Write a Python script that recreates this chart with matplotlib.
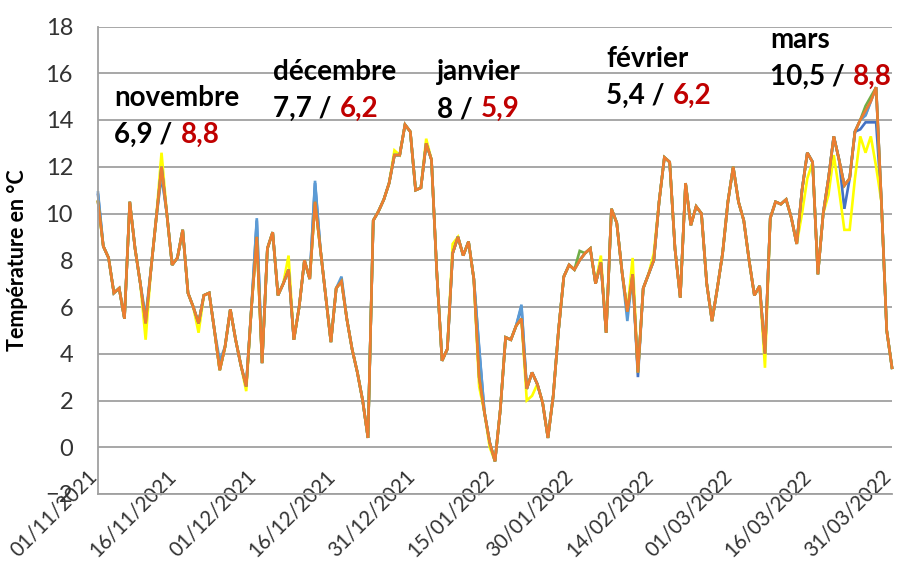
import matplotlib
matplotlib.use('Agg')
import matplotlib.pyplot as plt
import pandas as pd

plt.rcParams['font.family'] = ['Lato', 'DejaVu Sans']

# jours du 01/11/2021 au 31/03/2022
jours = pd.date_range('2021-11-01', '2022-03-31', freq='D')

# temperature moyenne journaliere (serie principale, orange)
temp_ref = [
    10.5, 8.6, 8.1, 6.6, 6.8, 5.5, 10.5, 8.5, 7.0, 5.3,
    7.6, 9.8, 12.0, 10.0, 7.8, 8.1, 9.3, 6.6, 6.0, 5.3,
    6.5, 6.6, 5.0, 3.3, 4.3, 5.9, 4.6, 3.5, 2.6, 6.0,
    9.0, 3.6, 8.5, 9.2, 6.5, 7.0, 7.6, 4.6, 6.0, 8.0,
    7.2, 10.5, 8.5, 6.5, 4.5, 6.8, 7.1, 5.5, 4.2, 3.2,
    2.0, 0.4, 9.7, 10.1, 10.6, 11.3, 12.5, 12.5, 13.8, 13.5,
    11.0, 11.1, 13.0, 12.3, 7.5, 3.7, 4.2, 8.3, 9.0, 8.2,
    8.8, 7.2, 3.0, 1.5, 0.2, -0.6, 1.6, 4.7, 4.6, 5.2,
    5.5, 2.5, 3.2, 2.7, 1.9, 0.4, 2.2, 5.0, 7.3, 7.8,
    7.6, 8.0, 8.3, 8.5, 7.0, 7.9, 4.9, 10.2, 9.6, 7.5,
    5.8, 7.4, 3.2, 6.8, 7.4, 8.0, 10.5, 12.4, 12.2, 8.5,
    6.4, 11.3, 9.5, 10.3, 10.0, 7.0, 5.4, 6.8, 8.3, 10.5,
    12.0, 10.5, 9.7, 8.0, 6.5, 6.9, 4.0, 9.8, 10.5, 10.4,
    10.6, 9.8, 8.7, 11.0, 12.6, 12.2, 7.4, 10.0, 11.5, 13.3,
    12.3, 11.2, 11.5, 13.5, 14.0, 14.4, 14.8, 15.4, 10.5, 5.0,
    3.4,
]

# autres stations : valeurs qui s'ecartent de la serie principale (jour -> temp)
ecarts_bleu = {0: 10.8, 12: 11.6, 30: 9.7, 41: 11.3, 72: 4.2, 80: 6.0, 102: 3.0,
               141: 10.2, 144: 13.6, 145: 13.9, 146: 13.9, 147: 13.9}
ecarts_gris = {12: 11.8, 46: 7.2, 145: 14.2}
ecarts_jaune = {9: 4.6, 12: 12.6, 19: 4.9, 28: 2.4, 36: 8.2, 56: 12.7, 62: 13.2,
                67: 8.7, 72: 2.6, 74: 0.0, 81: 2.0, 82: 2.2, 95: 8.2, 101: 8.1,
                105: 8.3, 126: 3.4, 133: 10.0, 134: 11.5, 138: 10.8, 139: 12.5,
                140: 11.0, 141: 9.3, 142: 9.3, 143: 11.5, 144: 13.3, 145: 12.6,
                146: 13.3, 147: 12.0}
ecarts_bleu_clair = {0: 10.9, 9: 5.6, 23: 3.7, 30: 9.8, 41: 11.4, 46: 7.3, 72: 4.3,
                     80: 6.1, 100: 5.4, 145: 14.2}
ecarts_vert = {91: 8.4, 145: 14.6, 146: 15.0}

stations = [
    ('#4472C4', ecarts_bleu),
    ('#A5A5A5', ecarts_gris),
    ('#FFFF00', ecarts_jaune),
    ('#5B9BD5', ecarts_bleu_clair),
    ('#70AD47', ecarts_vert),
    ('#ED7D31', {}),
]

# etiquettes des mois : nom, moyenne (noir), normale (rouge)
mois = ['novembre', 'décembre', 'janvier', 'février', 'mars']
moy_mois = ['6,9', '7,7', '8', '5,4', '10,5']
norm_mois = ['8,8', '6,2', '5,9', '6,2', '8,8']
pos_mois = [('2021-11-04', 14.6), ('2021-12-04', 15.7), ('2022-01-04', 15.7),
            ('2022-02-05', 16.25), ('2022-03-08', 17.1)]

fig = plt.figure(figsize=(8.97, 5.62), dpi=100)
ax = fig.add_axes([98 / 897, 68 / 562, 794 / 897, 467.5 / 562])

for couleur, ecarts in stations:
    serie = list(temp_ref)
    for j, v in ecarts.items():
        serie[j] = v
    ax.plot(jours, serie, color=couleur, lw=1.9, solid_joinstyle='miter',
            clip_on=False)

ax.set_ylim(-2, 18)
ax.set_yticks(range(-2, 19, 2))
ax.set_xlim(jours[0], jours[-1])
dates_ticks = jours[::15]
ax.set_xticks(dates_ticks)
ax.set_xticklabels(dates_ticks.strftime('%d/%m/%Y'), rotation=45, ha='right',
                   va='baseline', rotation_mode='anchor')
ax.grid(axis='y', color='#A0A0A0', lw=1.3)
ax.set_axisbelow(True)
for s in ['top', 'right']:
    ax.spines[s].set_visible(False)
for s in ['left', 'bottom']:
    ax.spines[s].set_color('#A0A0A0')
    ax.spines[s].set_linewidth(1.3)

ax.tick_params(axis='y', length=0, pad=18, labelsize=17, labelcolor='#333333')
ax.tick_params(axis='x', length=0, pad=-12, labelsize=14.8, labelcolor='#333333')

ax.set_ylabel('Température en °C', fontsize=15.5, fontweight='bold')
ax.yaxis.set_label_coords(-0.088, 0.5)

for nom, moy, norm, (d, y) in zip(mois, moy_mois, norm_mois, pos_mois):
    x = pd.Timestamp(d)
    ax.text(x, y, nom, fontsize=20, fontweight='bold', va='baseline', ha='left')
    t = ax.text(x, y - 1.58, moy + ' /', fontsize=20, fontweight='bold',
                va='baseline', ha='left')
    ax.annotate(norm, xy=(1, 0), xycoords=t, xytext=(6, 0),
                textcoords='offset points', fontsize=20, fontweight='bold',
                color='#C00000', va='bottom', ha='left')

fig.savefig('out.png', dpi=100)
